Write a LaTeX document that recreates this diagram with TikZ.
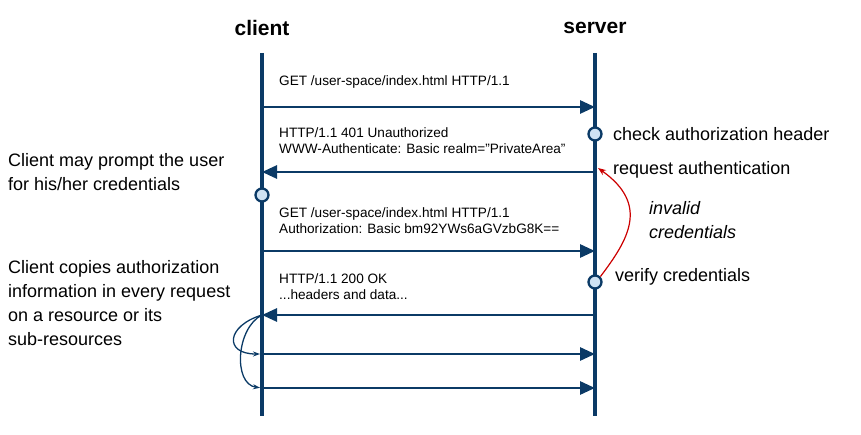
\documentclass[tikz,border=0pt]{standalone}
\usepackage{fontspec}
\setmainfont{Liberation Sans}
\usetikzlibrary{arrows.meta}
\definecolor{lifeblue}{HTML}{0B3A66}
\definecolor{eventfill}{HTML}{CFE2F3}
\definecolor{failred}{HTML}{CC0000}
\begin{document}
\begin{tikzpicture}[x=1pt,y=-1pt,
    lifeline/.style={lifeblue, line width=3.2pt},
    msg/.style={lifeblue, line width=2.8pt, -{Triangle[length=15pt,width=13pt]}},
    copyarrow/.style={lifeblue, line width=1.3pt, -{Stealth[length=7pt,width=5pt]}, shorten >=2pt},
    event/.style={circle, draw=lifeblue, fill=eventfill, line width=2.3pt, minimum size=13pt, inner sep=0pt},
    header/.style={font=\bfseries\fontsize{21}{25}\selectfont},
    msgtext/.style={anchor=west, align=left, inner sep=0pt, font=\fontsize{13.6}{16}\selectfont},
    note/.style={anchor=west, align=left, inner sep=0pt, font=\fontsize{18}{24}\selectfont}]
    \useasboundingbox (0,0) rectangle (861,435);
    % lifelines
    \node[header] (client) at (262,28) {client};
    \node[header] (server) at (595,28) {server};
    \coordinate (ctop) at (262,53);
    \coordinate (cbot) at (262,416);
    \coordinate (stop) at (595,53);
    \coordinate (sbot) at (595,416);
    \draw[lifeline] (ctop) -- (cbot);
    \draw[lifeline] (stop) -- (sbot);
    % points on the lifelines
    \foreach \i/\y in {1/107, 2/172, 3/251, 4/315, 5/354, 6/388} {
        \coordinate (c\i) at (262,\y);
        \coordinate (s\i) at (595,\y);
    }
    % messages
    \draw[msg] (c1) -- (s1);
    \draw[msg] (s2) -- (c2);
    \draw[msg] (c3) -- (s3);
    \draw[msg] (s4) -- (c4);
    \draw[msg] (c5) -- (s5);
    \draw[msg] (c6) -- (s6);
    \node[msgtext] (get1) at (279,82) {GET /user-space/index.html HTTP/1.1};
    \node[msgtext] (unauth) at (279,141) {HTTP/1.1 401 Unauthorized\\WWW-Authenticate: Basic realm=\symbol{34}PrivateArea\symbol{34}};
    \node[msgtext] (get2) at (279,221) {GET /user-space/index.html HTTP/1.1\\Authorization: Basic bm92YWs6aGVzbG8K==};
    \node[msgtext] (ok) at (279,287) {HTTP/1.1 200 OK\\...headers and data...};
    % events
    \node[event] (check) at (595,134) {};
    \node[event] (prompt) at (262,195) {};
    \node[event] (verify) at (595,282) {};
    \node[note] (checktext) at (613,134) {check authorization header};
    \node[note] (reqtext) at (613,170) {request authentication};
    \node[note] (verifytext) at (615,277) {verify credentials};
    \node[note, font=\itshape\fontsize{18}{24}\selectfont] (invalid) at (649,220) {invalid\\credentials};
    \node[note] (prompttext) at (8,172) {Client may prompt the user\\for his/her credentials};
    \node[note] (copytext) at (8,303) {Client copies authorization\\information in every request\\on a resource or its\\sub-resources};
    % invalid credentials loop
    \draw[failred, line width=1.2pt, -{Stealth[length=8pt,width=6pt]}] (verify.north east) .. controls (628,240) and (650,205) .. ([xshift=3pt,yshift=4pt]s2);
    % copied authorization
    \draw[copyarrow] (c4) .. controls (226,326) and (224,354) .. (c5);
    \draw[copyarrow] (c4) .. controls (236,328) and (233,384) .. (c6);
\end{tikzpicture}
\end{document}
